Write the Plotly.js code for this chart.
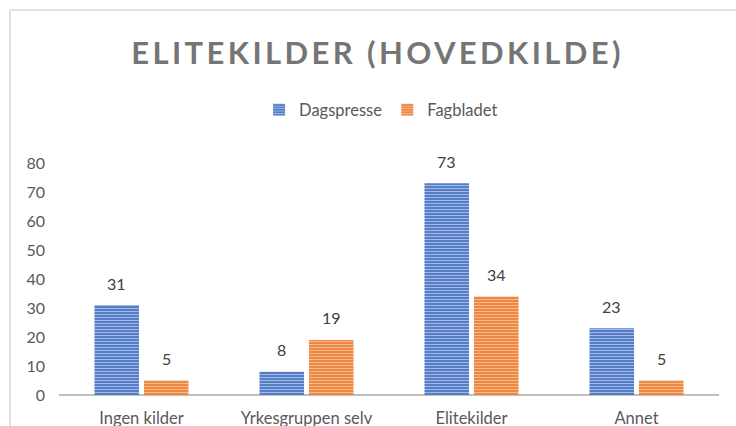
<!DOCTYPE html>
<html>
<head>
<meta charset="utf-8">
<script src="https://cdn.plot.ly/plotly-3.0.1.min.js"></script>
<style>body{margin:0;background:#fff}#chart{width:736px;height:426px}</style>
</head>
<body>
<div id="chart"></div>
<script>
const categories = ["Ingen kilder", "Yrkesgruppen selv", "Elitekilder", "Annet"];
const seriesNames = ["Dagspresse", "Fagbladet"];
const dagspresse = [31, 8, 73, 23];
const fagbladet = [5, 19, 34, 5];
const yTicks = [0, 10, 20, 30, 40, 50, 60, 70, 80];

const FONT = "Lato, 'Open Sans', sans-serif";
const colors = ["#4472C4", "#ED7D31"];
const stripes = ["#A3B9E4", "#F6BA8E"];

const seriesData = [dagspresse, fagbladet];
const traces = seriesData.map((vals, i) => ({
  type: "bar",
  name: seriesNames[i],
  x: categories,
  y: vals,
  marker: {
    color: colors[i],
    line: {width: 0},
    pattern: {shape: "-", fgcolor: stripes[i], bgcolor: colors[i], size: 3, solidity: 0.45}
  },
  hoverinfo: "x+y"
}));

const annotations = [];
seriesData.forEach((vals, i) => {
  vals.forEach((v, j) => {
    annotations.push({
      x: categories[j], y: v, xref: "x", yref: "y",
      text: String(v), showarrow: false,
      xshift: i === 0 ? -24.75 : 24.75, yshift: 22,
      font: {family: FONT, size: 16, color: "#404040"}
    });
  });
});

const layout = {
  width: 736, height: 426,
  margin: {l: 59, r: 17, t: 163, b: 31},
  paper_bgcolor: "#fff", plot_bgcolor: "#fff",
  font: {family: FONT, color: "#595959", size: 16},
  title: {
    text: "<b>ELITEKILDER (HOVEDKILDE)</b>",
    font: {family: FONT, size: 31, color: "#757575"},
    x: 0.513, xref: "container", xanchor: "center",
    y: 1 - 53 / 426, yref: "container", yanchor: "middle"
  },
  barmode: "group",
  bargap: 0.4,
  bargroupgap: 0.1,
  showlegend: true,
  legend: {
    orientation: "h", x: 0.488, xanchor: "center", y: 1.228, yanchor: "middle",
    font: {family: FONT, size: 16.5, color: "#595959"},
    itemwidth: 30, traceorder: "normal"
  },
  xaxis: {
    type: "category",
    showgrid: false, showline: false, zeroline: false, ticks: "",
    tickfont: {family: FONT, size: 16.5, color: "#595959"},
    ticklabelstandoff: 11
  },
  yaxis: {
    range: [0, 80], tickvals: yTicks, ticktext: yTicks.map(String),
    showgrid: false, showline: false, zeroline: true, zerolinecolor: "#BFBFBF", zerolinewidth: 2,
    ticks: "",
    tickfont: {family: FONT, size: 16, color: "#595959"},
    ticklabelstandoff: 13
  },
  annotations: annotations,
  shapes: [{
    type: "rect", xref: "paper", yref: "paper",
    x0: (10 - 59) / 660, x1: (745 - 59) / 660,
    y0: (395 - 435) / 232, y1: (395 - 10) / 232,
    line: {color: "#D9D9D9", width: 1.5}, fillcolor: "rgba(0,0,0,0)", layer: "below"
  }]
};

Plotly.newPlot("chart", traces, layout, {displayModeBar: false, staticPlot: true}).then(() => {
  const t = document.querySelector(".gtitle");
  if (t) { t.style.letterSpacing = "3.4px"; }
});
</script>
</body>
</html>
